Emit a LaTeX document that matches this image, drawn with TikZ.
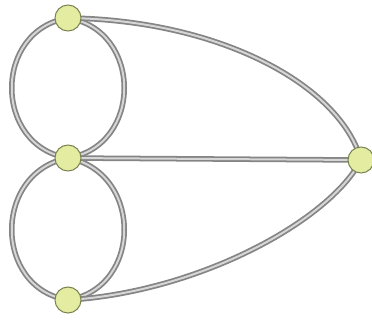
\documentclass[tikz,border=0pt]{standalone}
\usepackage{tikz}
\usetikzlibrary{backgrounds}
\definecolor{KBnode}{HTML}{E4ECA2}
\definecolor{KBrim}{HTML}{7C8452}
\definecolor{KBline}{HTML}{858585}
\definecolor{KBcore}{HTML}{D6D6D6}
\tikzset{
  kbland/.style={
    circle, draw=KBrim, line width=0.9pt, fill=KBnode,
    minimum size=0.78cm, inner sep=0pt},
  kbbridge/.style={
    draw=KBline, line width=1.5pt, double=KBcore, double distance=1.7pt},
}

\begin{document}
\begin{tikzpicture}[x=0.03cm, y=-0.03cm]
  \useasboundingbox (0,0) rectangle (372,322);
  \node[kbland] (top) at (68,18) {};
  \node[kbland] (mid) at (68,158) {};
  \node[kbland] (bot) at (68,300) {};
  \node[kbland] (east) at (361,160) {};
  % bridges
  \begin{scope}[on background layer]
    \draw[kbbridge] (top.center) .. controls (-7,30) and (-7,146) .. (mid.center);
    \draw[kbbridge] (top.center) .. controls (143,30) and (143,146) .. (mid.center);
    \draw[kbbridge] (mid.center) .. controls (-7,172) and (-7,288) .. (bot.center);
    \draw[kbbridge] (mid.center) .. controls (143,172) and (143,288) .. (bot.center);
    \draw[kbbridge] (mid.center) -- (east.center);
    \draw[kbbridge] (top.center) .. controls (220,20) and (340,85) .. (east.center);
    \draw[kbbridge] (bot.center) .. controls (200,292) and (330,220) .. (east.center);
  \end{scope}
\end{tikzpicture}
\end{document}
